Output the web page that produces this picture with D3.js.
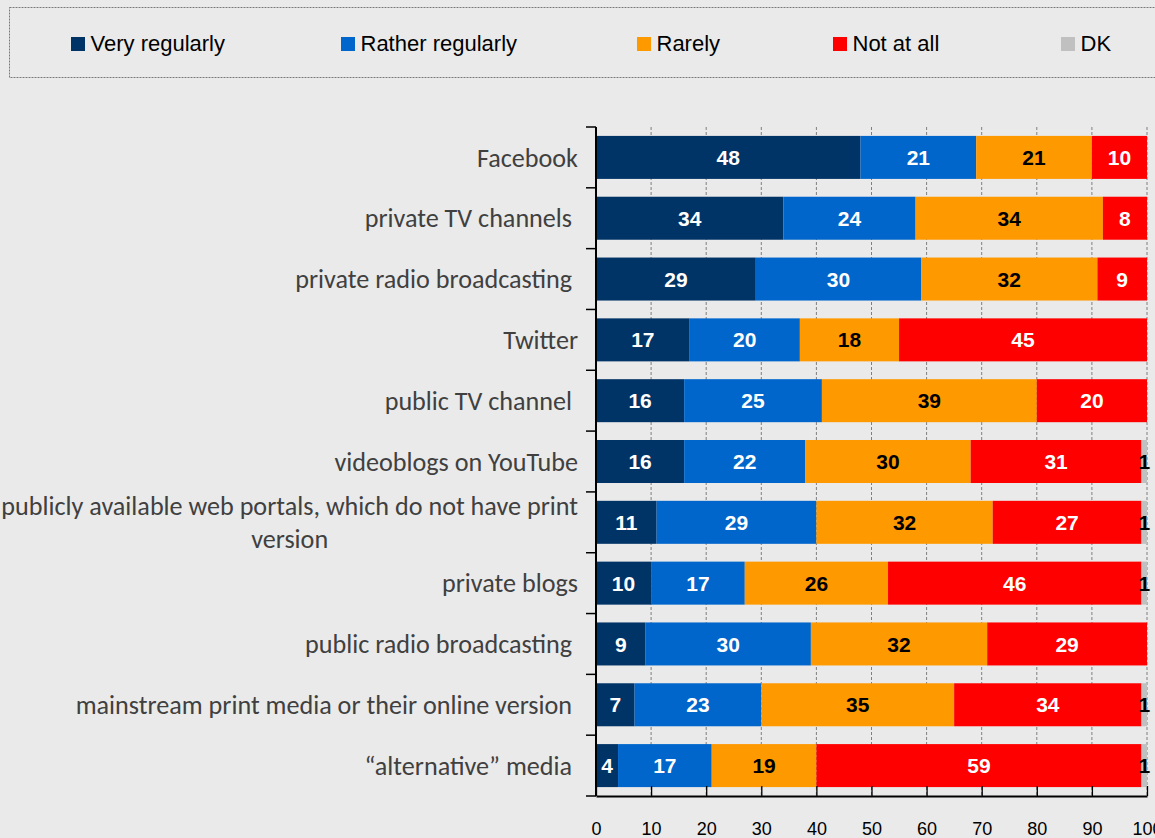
<!DOCTYPE html>
<html><head><meta charset="utf-8">
<script src="https://cdn.jsdelivr.net/npm/d3@7"></script>
<style>
html,body{margin:0;padding:0;background:#EAEAEA;overflow:hidden;}
svg{display:block;}
</style></head>
<body>
<svg id="chart" width="1155" height="838"></svg>
<script>
const categories = [
  "Facebook",
  "private TV channels ",
  "private radio broadcasting ",
  "Twitter",
  "public TV channel ",
  "videoblogs on YouTube",
  "publicly available web portals, which do not have print|version",
  "private blogs",
  "public radio broadcasting ",
  "mainstream print media or their online version ",
  "\u201calternative\u201d media "
];
const seriesNames = ["Very regularly", "Rather regularly", "Rarely", "Not at all", "DK"];
const veryRegularly   = [48, 34, 29, 17, 16, 16, 11, 10, 9, 7, 4];
const ratherRegularly = [21, 24, 30, 20, 25, 22, 29, 17, 30, 23, 17];
const rarely          = [21, 34, 32, 18, 39, 30, 32, 26, 32, 35, 19];
const notAtAll        = [10, 8, 9, 45, 20, 31, 27, 46, 29, 34, 59];
const dk              = [0, 0, 0, 0, 0, 1, 1, 1, 0, 1, 1];
const xTicks = [0, 10, 20, 30, 40, 50, 60, 70, 80, 90, 100];

const colors = ["#003366", "#0066CC", "#FF9900", "#FF0000", "#C0C0C0"];
const labelColors = ["#fff", "#fff", "#000", "#fff", "#000"];

const rows = categories.map((c, i) => ({
  cat: c,
  vals: [veryRegularly[i], ratherRegularly[i], rarely[i], notAtAll[i], dk[i]]
}));

const svg = d3.select("#chart");

// Legend box
svg.append("rect").attr("x", 9.5).attr("y", 7.5).attr("width", 1300).attr("height", 70)
  .attr("fill", "none").attr("stroke", "#7a7a7a").attr("stroke-width", 1).attr("stroke-dasharray", "2,1");
const legendX = [71, 341, 637, 833, 1061];
const lg = svg.append("g");
seriesNames.forEach((s, i) => {
  lg.append("rect").attr("x", legendX[i]).attr("y", 37).attr("width", 14).attr("height", 14).attr("fill", colors[i]);
  lg.append("text").attr("x", legendX[i] + 19.5).attr("y", 51)
    .attr("font-family", "'Liberation Sans', Arial, sans-serif").attr("font-size", 22).attr("fill", "#000")
    .text(s);
});

const x = d3.scaleLinear().domain([0, 100]).range([596, 1147]);
const y = d3.scaleBand().domain(categories).range([127, 796]).paddingInner(0.293).paddingOuter(0.1465);

// gridlines
svg.append("g").selectAll("line").data(xTicks.slice(1)).join("line")
  .attr("x1", d => x(d)).attr("x2", d => x(d)).attr("y1", 127).attr("y2", 796)
  .attr("stroke", "#7f7f7f").attr("stroke-width", 1).attr("stroke-dasharray", "3,2");

// bars
const stack = rows.map(r => {
  let acc = 0;
  return r.vals.map((v, k) => { const s = acc; acc += v; return {cat: r.cat, k, v, x0: s, x1: acc}; });
});
const segs = stack.flat();
svg.append("g").selectAll("rect").data(segs.filter(d => d.v > 0)).join("rect")
  .attr("x", d => x(d.x0)).attr("width", d => x(d.x1) - x(d.x0))
  .attr("y", d => y(d.cat)).attr("height", y.bandwidth())
  .attr("fill", d => colors[d.k]);

svg.append("g").selectAll("text").data(segs.filter(d => d.v > 0)).join("text")
  .attr("x", d => (x(d.x0) + x(d.x1)) / 2).attr("y", d => y(d.cat) + y.bandwidth() / 2)
  .attr("dy", "0.36em").attr("text-anchor", "middle")
  .attr("font-family", "'Liberation Sans', Arial, sans-serif").attr("font-weight", "bold").attr("font-size", 21)
  .attr("fill", d => labelColors[d.k]).text(d => d.v);

// bottom axis
const xAxis = d3.axisBottom(x).tickValues(xTicks).tickSize(-10).tickSizeOuter(0).tickPadding(26);
const gx = svg.append("g").attr("transform", "translate(0,796)").call(xAxis);
gx.select(".domain").attr("stroke", "#000").attr("stroke-width", 2);
gx.selectAll(".tick line").attr("stroke", "#000").attr("stroke-width", 1.3);
gx.selectAll("text").attr("font-family", "'Liberation Sans', Arial, sans-serif").attr("font-size", 18).attr("fill", "#000");
// left axis line and category boundary ticks
const step = y.step();
svg.append("line").attr("x1", 596).attr("x2", 596).attr("y1", 127).attr("y2", 796).attr("stroke", "#000").attr("stroke-width", 2);
svg.append("g").selectAll("line").data(d3.range(categories.length + 1)).join("line")
  .attr("x1", 586).attr("x2", 596).attr("y1", i => 127 + i * step).attr("y2", i => 127 + i * step)
  .attr("stroke", "#000").attr("stroke-width", 1.5);

// category labels
const labFont = "Carlito, Calibri, Lato, 'Open Sans', sans-serif";
const labG = svg.append("g");
let fs = 22;
const probe = labG.append("text").attr("font-family", labFont).attr("font-size", fs)
  .text("publicly available web portals, which do not have print");
const w = probe.node().getComputedTextLength();
probe.remove();
fs = fs * 577 / w;
categories.forEach(c => {
  const cy = y(c) + y.bandwidth() / 2;
  const parts = c.split("|");
  if (parts.length === 1) {
    labG.append("text").attr("x", 578).attr("y", cy).attr("dy", "0.35em").attr("text-anchor", "end")
      .attr("font-family", labFont).attr("font-size", fs).attr("fill", "#404040")
      .style("white-space", "pre").text(c);
  } else {
    const t1 = labG.append("text").attr("x", 578).attr("y", cy - 16).attr("dy", "0.35em").attr("text-anchor", "end")
      .attr("font-family", labFont).attr("font-size", fs).attr("fill", "#404040").text(parts[0]);
    const lw = t1.node().getComputedTextLength();
    labG.append("text").attr("x", 578 - lw / 2).attr("y", cy + 17).attr("dy", "0.35em").attr("text-anchor", "middle")
      .attr("font-family", labFont).attr("font-size", fs).attr("fill", "#404040").text(parts[1]);
  }
});
</script>
</body></html>
